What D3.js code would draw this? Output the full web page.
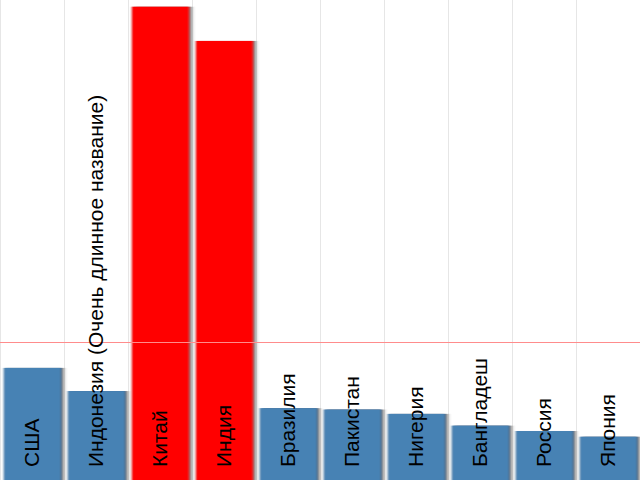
<!DOCTYPE html>
<html>
<head>
<meta charset="utf-8">
<script src="https://cdn.jsdelivr.net/npm/d3@7"></script>
<style>
html,body{margin:0;padding:0;background:#fff;}
svg{display:block;}
</style>
</head>
<body>
<script>
const categories = ["США","Индонезия (Очень длинное название)","Китай","Индия","Бразилия","Пакистан","Нигерия","Бангладеш","Россия","Япония"];
const values = [334, 265, 1410, 1308, 214, 210, 197, 162, 146, 129];
const threshold = 411;
const yMax = 1430;

const W = 640, H = 480;
const svg = d3.select("body").append("svg").attr("width", W).attr("height", H);

const defs = svg.append("defs");
const f = defs.append("filter").attr("id","sh").attr("x","-20%").attr("y","-5%").attr("width","140%").attr("height","110%");
f.append("feGaussianBlur").attr("in","SourceAlpha").attr("stdDeviation","2 0").attr("result","b");
f.append("feOffset").attr("in","b").attr("dx",2).attr("dy",0).attr("result","o");
f.append("feFlood").attr("flood-color","#444").attr("result","c");
f.append("feComposite").attr("in","c").attr("in2","o").attr("operator","in").attr("result","s");
f.append("feGaussianBlur").attr("in","SourceGraphic").attr("stdDeviation","1.3 0").attr("result","g");
const m = f.append("feMerge");
m.append("feMergeNode").attr("in","s");
m.append("feMergeNode").attr("in","g");

const x = d3.scaleBand().domain(categories).range([0, W]).padding(0);
const y = d3.scaleLinear().domain([0, yMax]).range([H, 0]);

svg.append("g").selectAll("line").data(categories).join("line")
  .attr("x1", d => x(d)+0.5).attr("x2", d => x(d)+0.5)
  .attr("y1", 0).attr("y2", H)
  .attr("stroke", "#e6e6e6").attr("stroke-width", 1);

const data = categories.map((c,i) => ({c, v: values[i]}));

svg.append("g").selectAll("rect").data(data).join("rect")
  .attr("x", d => x(d.c) + 4)
  .attr("width", x.bandwidth() - 7)
  .attr("y", d => y(d.v))
  .attr("height", d => H - y(d.v))
  .attr("fill", d => d.v > threshold ? "#ff0000" : "#4682b4")
  .attr("filter", "url(#sh)");

svg.append("line")
  .attr("x1", 0).attr("x2", W)
  .attr("y1", Math.round(y(threshold))+0.5).attr("y2", Math.round(y(threshold))+0.5)
  .attr("stroke", "#ff8c8c").attr("stroke-width", 1);

svg.append("g").selectAll("text").data(data).join("text")
  .attr("transform", d => `translate(${x(d.c) + x.bandwidth()/2},467) rotate(-90)`)
  .attr("dy", "0.35em")
  .attr("font-family", "Liberation Sans, Arial, sans-serif")
  .attr("font-size", 21)
  .attr("fill", "#000")
  .text(d => d.c);
</script>
</body>
</html>
